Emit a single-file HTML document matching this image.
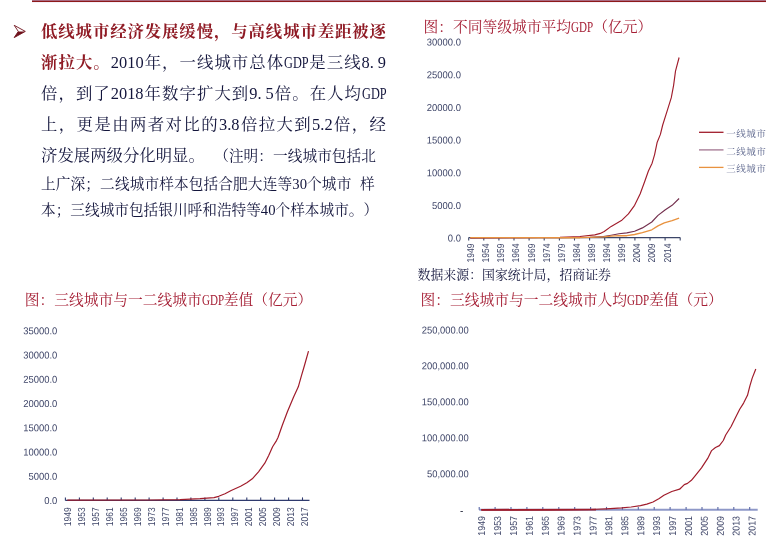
<!DOCTYPE html>
<html lang="zh-CN"><head><meta charset="utf-8"><title>低线城市经济发展缓慢</title>
<style>
html,body{margin:0;padding:0;background:#fff;}
body{text-spacing-trim:space-all;width:774px;height:545px;position:relative;overflow:hidden;font-family:"Liberation Serif","Noto Serif CJK SC",serif;}
svg text{font-family:"Liberation Serif","Noto Serif CJK SC",serif;}
svg text.ax{font-family:"Liberation Sans",sans-serif;fill:#3e4568;}
svg text.ttl{font-size:14.4px;fill:#a01c2b;}
svg text.lg{font-size:9.6px;letter-spacing:.4px;fill:#566088;}
svg text.src{font-size:12.9px;fill:#13153c;}
.ln{position:absolute;left:41px;width:345px;height:31px;line-height:31px;font-size:16.4px;color:#13153c;white-space:nowrap;}
.ln.w2{width:334.5px;}
.ln.j{text-align:justify;text-align-last:justify;}
.ln b{font-weight:700;color:#8f1a24;}
.ln .s,.ln.s2{font-size:14.67px;}
.hw3{display:inline-block;width:24px;height:16px;vertical-align:baseline;position:relative;}
.hw3>span{display:inline-block;transform:scaleX(.75);transform-origin:0 50%;}
.ttl{position:absolute;font-size:14.75px;line-height:22px;height:22px;color:#a51e34;white-space:nowrap;}
.hw3.t{width:22.1px;height:14px;}
.dot{display:inline-block;width:8px;text-align:left;}
#wrap{position:absolute;left:0;top:0;width:774px;height:545px;will-change:transform;opacity:.999;}
</style></head><body><div id="wrap">
<svg width="774" height="545" viewBox="0 0 774 545" style="position:absolute;left:0;top:0">
<rect x="32" y="0" width="734" height="1" fill="#aa6b82"/><rect x="32" y="1" width="734" height="1" fill="#8e1919"/><rect x="32" y="2" width="734" height="1" fill="#f6f0fa"/>
<g id="bullet"><path d="M14.2 25.3 L25.3 31.4 L14.2 37.6 L18.3 31.4 Z" fill="#fff" stroke="#6f121c" stroke-width="0.9" stroke-linejoin="miter"/><path d="M25.3 31.4 L14.2 37.6 L18.3 31.4 Z" fill="#6f121c"/></g>
<text transform="translate(461,241.6) rotate(0.03) scale(0.945,1)" text-anchor="end" class="ax" font-size="10">0.0</text>
<text transform="translate(461,208.9) rotate(0.03) scale(0.945,1)" text-anchor="end" class="ax" font-size="10">5000.0</text>
<text transform="translate(461,176.2) rotate(0.03) scale(0.945,1)" text-anchor="end" class="ax" font-size="10">10000.0</text>
<text transform="translate(461,143.6) rotate(0.03) scale(0.945,1)" text-anchor="end" class="ax" font-size="10">15000.0</text>
<text transform="translate(461,110.9) rotate(0.03) scale(0.945,1)" text-anchor="end" class="ax" font-size="10">20000.0</text>
<text transform="translate(461,78.2) rotate(0.03) scale(0.945,1)" text-anchor="end" class="ax" font-size="10">25000.0</text>
<text transform="translate(461,45.5) rotate(0.03) scale(0.945,1)" text-anchor="end" class="ax" font-size="10">30000.0</text>
<line x1="468.7" y1="237.6" x2="680.2" y2="237.6" stroke="#3c4668" stroke-width="1.2"/>
<line x1="468.7" y1="237.6" x2="468.7" y2="240.5" stroke="#3c4668" stroke-width="1.1"/>
<text transform="translate(474.2,243.6) rotate(-89.97) scale(0.85,1)" text-anchor="end" class="ax" font-size="10">1949</text>
<line x1="483.8" y1="237.6" x2="483.8" y2="240.5" stroke="#3c4668" stroke-width="1.1"/>
<text transform="translate(489.3,243.6) rotate(-89.97) scale(0.85,1)" text-anchor="end" class="ax" font-size="10">1954</text>
<line x1="498.9" y1="237.6" x2="498.9" y2="240.5" stroke="#3c4668" stroke-width="1.1"/>
<text transform="translate(504.4,243.6) rotate(-89.97) scale(0.85,1)" text-anchor="end" class="ax" font-size="10">1959</text>
<line x1="514.0" y1="237.6" x2="514.0" y2="240.5" stroke="#3c4668" stroke-width="1.1"/>
<text transform="translate(519.5,243.6) rotate(-89.97) scale(0.85,1)" text-anchor="end" class="ax" font-size="10">1964</text>
<line x1="529.1" y1="237.6" x2="529.1" y2="240.5" stroke="#3c4668" stroke-width="1.1"/>
<text transform="translate(534.6,243.6) rotate(-89.97) scale(0.85,1)" text-anchor="end" class="ax" font-size="10">1969</text>
<line x1="544.2" y1="237.6" x2="544.2" y2="240.5" stroke="#3c4668" stroke-width="1.1"/>
<text transform="translate(549.7,243.6) rotate(-89.97) scale(0.85,1)" text-anchor="end" class="ax" font-size="10">1974</text>
<line x1="559.4" y1="237.6" x2="559.4" y2="240.5" stroke="#3c4668" stroke-width="1.1"/>
<text transform="translate(564.8,243.6) rotate(-89.97) scale(0.85,1)" text-anchor="end" class="ax" font-size="10">1979</text>
<line x1="574.5" y1="237.6" x2="574.5" y2="240.5" stroke="#3c4668" stroke-width="1.1"/>
<text transform="translate(579.9,243.6) rotate(-89.97) scale(0.85,1)" text-anchor="end" class="ax" font-size="10">1984</text>
<line x1="589.6" y1="237.6" x2="589.6" y2="240.5" stroke="#3c4668" stroke-width="1.1"/>
<text transform="translate(595.0,243.6) rotate(-89.97) scale(0.85,1)" text-anchor="end" class="ax" font-size="10">1989</text>
<line x1="604.7" y1="237.6" x2="604.7" y2="240.5" stroke="#3c4668" stroke-width="1.1"/>
<text transform="translate(610.2,243.6) rotate(-89.97) scale(0.85,1)" text-anchor="end" class="ax" font-size="10">1994</text>
<line x1="619.8" y1="237.6" x2="619.8" y2="240.5" stroke="#3c4668" stroke-width="1.1"/>
<text transform="translate(625.3,243.6) rotate(-89.97) scale(0.85,1)" text-anchor="end" class="ax" font-size="10">1999</text>
<line x1="634.9" y1="237.6" x2="634.9" y2="240.5" stroke="#3c4668" stroke-width="1.1"/>
<text transform="translate(640.4,243.6) rotate(-89.97) scale(0.85,1)" text-anchor="end" class="ax" font-size="10">2004</text>
<line x1="650.0" y1="237.6" x2="650.0" y2="240.5" stroke="#3c4668" stroke-width="1.1"/>
<text transform="translate(655.5,243.6) rotate(-89.97) scale(0.85,1)" text-anchor="end" class="ax" font-size="10">2009</text>
<line x1="665.1" y1="237.6" x2="665.1" y2="240.5" stroke="#3c4668" stroke-width="1.1"/>
<text transform="translate(670.6,243.6) rotate(-89.97) scale(0.85,1)" text-anchor="end" class="ax" font-size="10">2014</text>
<line x1="680.2" y1="237.6" x2="680.2" y2="240.5" stroke="#3c4668" stroke-width="1.1"/>
<polyline points="470.2,237.8 520.0,237.6 560.0,237.2 580.0,236.5 594.8,234.9 600.3,233.4 604.2,231.5 611.2,226.4 621.4,220.6 628.4,213.9 634.6,205.3 640.1,194.0 644.8,181.2 648.4,171.0 652.1,163.2 654.6,154.6 657.2,142.2 660.4,134.4 662.7,125.0 667.4,110.2 671.3,97.7 673.6,85.3 675.5,71.2 679.1,57.5" fill="none" stroke="#a01c2b" stroke-width="1.15" stroke-linejoin="round"/>
<polyline points="470.2,237.8 560.0,237.7 590.0,237.2 603.4,236.5 611.2,235.2 619.0,233.8 626.8,232.9 634.6,231.3 642.4,227.9 651.8,222.0 658.0,215.4 665.0,210.0 672.1,205.3 679.1,198.5" fill="none" stroke="#74304e" stroke-width="1.15" stroke-linejoin="round"/>
<polyline points="470.2,237.6 580.0,237.7 603.4,236.8 611.2,236.2 619.0,235.7 626.8,235.7 634.6,234.5 642.4,232.6 651.8,229.8 658.0,225.9 664.3,222.9 672.1,220.6 679.1,218.2" fill="none" stroke="#e8923f" stroke-width="1.35" stroke-linejoin="round"/>
<line x1="699" y1="132.3" x2="723.5" y2="132.3" stroke="#a01c2b" stroke-width="1.3"/>
<text x="726.2" y="136.9" class="lg">一线城市</text>
<line x1="699" y1="149.9" x2="723.5" y2="149.9" stroke="#a27590" stroke-width="1.3"/>
<text x="726.2" y="154.5" class="lg">二线城市</text>
<line x1="699" y1="167.4" x2="723.5" y2="167.4" stroke="#e8923f" stroke-width="1.3"/>
<text x="726.2" y="172.0" class="lg">三线城市</text>
<text x="417.6" y="279" class="src">数据来源：国家统计局，招商证券</text>
<text transform="translate(57.3,503.9) rotate(0.03) scale(0.945,1)" text-anchor="end" class="ax" font-size="10">0.0</text>
<text transform="translate(57.3,479.7) rotate(0.03) scale(0.945,1)" text-anchor="end" class="ax" font-size="10">5000.0</text>
<text transform="translate(57.3,455.5) rotate(0.03) scale(0.945,1)" text-anchor="end" class="ax" font-size="10">10000.0</text>
<text transform="translate(57.3,431.2) rotate(0.03) scale(0.945,1)" text-anchor="end" class="ax" font-size="10">15000.0</text>
<text transform="translate(57.3,407.0) rotate(0.03) scale(0.945,1)" text-anchor="end" class="ax" font-size="10">20000.0</text>
<text transform="translate(57.3,382.8) rotate(0.03) scale(0.945,1)" text-anchor="end" class="ax" font-size="10">25000.0</text>
<text transform="translate(57.3,358.5) rotate(0.03) scale(0.945,1)" text-anchor="end" class="ax" font-size="10">30000.0</text>
<text transform="translate(57.3,334.3) rotate(0.03) scale(0.945,1)" text-anchor="end" class="ax" font-size="10">35000.0</text>
<line x1="65.4" y1="500.4" x2="309.5" y2="500.4" stroke="#2f3a6e" stroke-width="1.2"/>
<line x1="65.4" y1="497.4" x2="65.4" y2="500.4" stroke="#2f3a6e" stroke-width="1.1"/>
<text transform="translate(71.1,507.29999999999995) rotate(-89.97) scale(0.85,1)" text-anchor="end" class="ax" font-size="10">1949</text>
<line x1="79.4" y1="497.4" x2="79.4" y2="500.4" stroke="#2f3a6e" stroke-width="1.1"/>
<text transform="translate(85.0,507.29999999999995) rotate(-89.97) scale(0.85,1)" text-anchor="end" class="ax" font-size="10">1953</text>
<line x1="93.3" y1="497.4" x2="93.3" y2="500.4" stroke="#2f3a6e" stroke-width="1.1"/>
<text transform="translate(99.0,507.29999999999995) rotate(-89.97) scale(0.85,1)" text-anchor="end" class="ax" font-size="10">1957</text>
<line x1="107.2" y1="497.4" x2="107.2" y2="500.4" stroke="#2f3a6e" stroke-width="1.1"/>
<text transform="translate(112.9,507.29999999999995) rotate(-89.97) scale(0.85,1)" text-anchor="end" class="ax" font-size="10">1961</text>
<line x1="121.2" y1="497.4" x2="121.2" y2="500.4" stroke="#2f3a6e" stroke-width="1.1"/>
<text transform="translate(126.9,507.29999999999995) rotate(-89.97) scale(0.85,1)" text-anchor="end" class="ax" font-size="10">1965</text>
<line x1="135.2" y1="497.4" x2="135.2" y2="500.4" stroke="#2f3a6e" stroke-width="1.1"/>
<text transform="translate(140.8,507.29999999999995) rotate(-89.97) scale(0.85,1)" text-anchor="end" class="ax" font-size="10">1969</text>
<line x1="149.1" y1="497.4" x2="149.1" y2="500.4" stroke="#2f3a6e" stroke-width="1.1"/>
<text transform="translate(154.8,507.29999999999995) rotate(-89.97) scale(0.85,1)" text-anchor="end" class="ax" font-size="10">1973</text>
<line x1="163.1" y1="497.4" x2="163.1" y2="500.4" stroke="#2f3a6e" stroke-width="1.1"/>
<text transform="translate(168.7,507.29999999999995) rotate(-89.97) scale(0.85,1)" text-anchor="end" class="ax" font-size="10">1977</text>
<line x1="177.0" y1="497.4" x2="177.0" y2="500.4" stroke="#2f3a6e" stroke-width="1.1"/>
<text transform="translate(182.7,507.29999999999995) rotate(-89.97) scale(0.85,1)" text-anchor="end" class="ax" font-size="10">1981</text>
<line x1="190.9" y1="497.4" x2="190.9" y2="500.4" stroke="#2f3a6e" stroke-width="1.1"/>
<text transform="translate(196.6,507.29999999999995) rotate(-89.97) scale(0.85,1)" text-anchor="end" class="ax" font-size="10">1985</text>
<line x1="204.9" y1="497.4" x2="204.9" y2="500.4" stroke="#2f3a6e" stroke-width="1.1"/>
<text transform="translate(210.6,507.29999999999995) rotate(-89.97) scale(0.85,1)" text-anchor="end" class="ax" font-size="10">1989</text>
<line x1="218.8" y1="497.4" x2="218.8" y2="500.4" stroke="#2f3a6e" stroke-width="1.1"/>
<text transform="translate(224.5,507.29999999999995) rotate(-89.97) scale(0.85,1)" text-anchor="end" class="ax" font-size="10">1993</text>
<line x1="232.8" y1="497.4" x2="232.8" y2="500.4" stroke="#2f3a6e" stroke-width="1.1"/>
<text transform="translate(238.5,507.29999999999995) rotate(-89.97) scale(0.85,1)" text-anchor="end" class="ax" font-size="10">1997</text>
<line x1="246.8" y1="497.4" x2="246.8" y2="500.4" stroke="#2f3a6e" stroke-width="1.1"/>
<text transform="translate(252.4,507.29999999999995) rotate(-89.97) scale(0.85,1)" text-anchor="end" class="ax" font-size="10">2001</text>
<line x1="260.7" y1="497.4" x2="260.7" y2="500.4" stroke="#2f3a6e" stroke-width="1.1"/>
<text transform="translate(266.4,507.29999999999995) rotate(-89.97) scale(0.85,1)" text-anchor="end" class="ax" font-size="10">2005</text>
<line x1="274.6" y1="497.4" x2="274.6" y2="500.4" stroke="#2f3a6e" stroke-width="1.1"/>
<text transform="translate(280.3,507.29999999999995) rotate(-89.97) scale(0.85,1)" text-anchor="end" class="ax" font-size="10">2009</text>
<line x1="288.6" y1="497.4" x2="288.6" y2="500.4" stroke="#2f3a6e" stroke-width="1.1"/>
<text transform="translate(294.3,507.29999999999995) rotate(-89.97) scale(0.85,1)" text-anchor="end" class="ax" font-size="10">2013</text>
<line x1="302.5" y1="497.4" x2="302.5" y2="500.4" stroke="#2f3a6e" stroke-width="1.1"/>
<text transform="translate(308.2,507.29999999999995) rotate(-89.97) scale(0.85,1)" text-anchor="end" class="ax" font-size="10">2017</text>
<polyline points="67.3,500.2 150.0,500.0 180.0,499.6 200.0,498.7 214.0,497.6 218.7,496.3 225.0,493.7 231.2,490.5 240.6,486.3 246.8,482.7 252.3,478.8 258.5,471.8 264.8,463.2 268.7,455.4 272.6,446.8 276.5,440.6 278.0,437.5 282.4,425.0 287.4,411.8 293.6,397.0 298.3,386.8 301.4,375.9 304.6,365.0 308.5,351.2" fill="none" stroke="#a01c2b" stroke-width="1.2" stroke-linejoin="round"/>
<text transform="translate(468.8,477.2) rotate(0.03) scale(0.94,1)" text-anchor="end" class="ax" font-size="10">50,000.00</text>
<text transform="translate(468.8,441.2) rotate(0.03) scale(0.94,1)" text-anchor="end" class="ax" font-size="10">100,000.00</text>
<text transform="translate(468.8,405.3) rotate(0.03) scale(0.94,1)" text-anchor="end" class="ax" font-size="10">150,000.00</text>
<text transform="translate(468.8,369.3) rotate(0.03) scale(0.94,1)" text-anchor="end" class="ax" font-size="10">200,000.00</text>
<text transform="translate(468.8,333.4) rotate(0.03) scale(0.94,1)" text-anchor="end" class="ax" font-size="10">250,000.00</text>
<text x="463.3" y="514.3" text-anchor="end" class="ax" font-size="10" style="fill:#23263a">-</text>
<line x1="479.2" y1="509.8" x2="757.7" y2="509.8" stroke="#8e98c8" stroke-width="2"/>
<line x1="479.2" y1="506.90000000000003" x2="479.2" y2="509.8" stroke="#5a68a6" stroke-width="1.1"/>
<text transform="translate(485.0,516.0) rotate(-89.97) scale(0.885,1)" text-anchor="end" class="ax" font-size="10">1949</text>
<line x1="495.1" y1="506.90000000000003" x2="495.1" y2="509.8" stroke="#5a68a6" stroke-width="1.1"/>
<text transform="translate(501.0,516.0) rotate(-89.97) scale(0.885,1)" text-anchor="end" class="ax" font-size="10">1953</text>
<line x1="511.0" y1="506.90000000000003" x2="511.0" y2="509.8" stroke="#5a68a6" stroke-width="1.1"/>
<text transform="translate(516.9,516.0) rotate(-89.97) scale(0.885,1)" text-anchor="end" class="ax" font-size="10">1957</text>
<line x1="526.9" y1="506.90000000000003" x2="526.9" y2="509.8" stroke="#5a68a6" stroke-width="1.1"/>
<text transform="translate(532.8,516.0) rotate(-89.97) scale(0.885,1)" text-anchor="end" class="ax" font-size="10">1961</text>
<line x1="542.8" y1="506.90000000000003" x2="542.8" y2="509.8" stroke="#5a68a6" stroke-width="1.1"/>
<text transform="translate(548.7,516.0) rotate(-89.97) scale(0.885,1)" text-anchor="end" class="ax" font-size="10">1965</text>
<line x1="558.8" y1="506.90000000000003" x2="558.8" y2="509.8" stroke="#5a68a6" stroke-width="1.1"/>
<text transform="translate(564.6,516.0) rotate(-89.97) scale(0.885,1)" text-anchor="end" class="ax" font-size="10">1969</text>
<line x1="574.7" y1="506.90000000000003" x2="574.7" y2="509.8" stroke="#5a68a6" stroke-width="1.1"/>
<text transform="translate(580.5,516.0) rotate(-89.97) scale(0.885,1)" text-anchor="end" class="ax" font-size="10">1973</text>
<line x1="590.6" y1="506.90000000000003" x2="590.6" y2="509.8" stroke="#5a68a6" stroke-width="1.1"/>
<text transform="translate(596.4,516.0) rotate(-89.97) scale(0.885,1)" text-anchor="end" class="ax" font-size="10">1977</text>
<line x1="606.5" y1="506.90000000000003" x2="606.5" y2="509.8" stroke="#5a68a6" stroke-width="1.1"/>
<text transform="translate(612.3,516.0) rotate(-89.97) scale(0.885,1)" text-anchor="end" class="ax" font-size="10">1981</text>
<line x1="622.4" y1="506.90000000000003" x2="622.4" y2="509.8" stroke="#5a68a6" stroke-width="1.1"/>
<text transform="translate(628.2,516.0) rotate(-89.97) scale(0.885,1)" text-anchor="end" class="ax" font-size="10">1985</text>
<line x1="638.3" y1="506.90000000000003" x2="638.3" y2="509.8" stroke="#5a68a6" stroke-width="1.1"/>
<text transform="translate(644.2,516.0) rotate(-89.97) scale(0.885,1)" text-anchor="end" class="ax" font-size="10">1989</text>
<line x1="654.2" y1="506.90000000000003" x2="654.2" y2="509.8" stroke="#5a68a6" stroke-width="1.1"/>
<text transform="translate(660.1,516.0) rotate(-89.97) scale(0.885,1)" text-anchor="end" class="ax" font-size="10">1993</text>
<line x1="670.1" y1="506.90000000000003" x2="670.1" y2="509.8" stroke="#5a68a6" stroke-width="1.1"/>
<text transform="translate(676.0,516.0) rotate(-89.97) scale(0.885,1)" text-anchor="end" class="ax" font-size="10">1997</text>
<line x1="686.1" y1="506.90000000000003" x2="686.1" y2="509.8" stroke="#5a68a6" stroke-width="1.1"/>
<text transform="translate(691.9,516.0) rotate(-89.97) scale(0.885,1)" text-anchor="end" class="ax" font-size="10">2001</text>
<line x1="702.0" y1="506.90000000000003" x2="702.0" y2="509.8" stroke="#5a68a6" stroke-width="1.1"/>
<text transform="translate(707.8,516.0) rotate(-89.97) scale(0.885,1)" text-anchor="end" class="ax" font-size="10">2005</text>
<line x1="717.9" y1="506.90000000000003" x2="717.9" y2="509.8" stroke="#5a68a6" stroke-width="1.1"/>
<text transform="translate(723.7,516.0) rotate(-89.97) scale(0.885,1)" text-anchor="end" class="ax" font-size="10">2009</text>
<line x1="733.8" y1="506.90000000000003" x2="733.8" y2="509.8" stroke="#5a68a6" stroke-width="1.1"/>
<text transform="translate(739.6,516.0) rotate(-89.97) scale(0.885,1)" text-anchor="end" class="ax" font-size="10">2013</text>
<line x1="749.7" y1="506.90000000000003" x2="749.7" y2="509.8" stroke="#5a68a6" stroke-width="1.1"/>
<text transform="translate(755.5,516.0) rotate(-89.97) scale(0.885,1)" text-anchor="end" class="ax" font-size="10">2017</text>
<line x1="481.2" y1="509.8" x2="596" y2="509.7" stroke="#a01c2b" stroke-width="1.8"/>
<polyline points="481.5,509.9 550.0,509.8 590.6,509.5 606.2,508.8 621.8,507.9 631.1,507.0 640.5,505.7 646.8,504.1 653.0,502.0 659.2,498.4 663.9,495.3 671.8,491.5 679.6,489.2 684.3,484.6 687.5,483.4 691.4,480.3 695.3,475.6 701.5,467.8 707.7,458.4 711.6,450.6 715.5,447.5 719.4,445.6 723.3,440.5 725.7,435.0 731.1,426.5 735.8,417.1 739.7,409.3 743.6,403.1 747.5,395.3 749.9,385.9 752.2,378.1 755.8,369.0" fill="none" stroke="#a01c2b" stroke-width="1.2" stroke-linejoin="round"/>
</svg>
<div class="ttl" style="left:423.6px;top:16.2px">图：不同等级城市平均<span class="hw3 t"><span>GDP</span></span>（亿元）</div>
<div class="ttl" style="left:24.7px;top:289.2px">图：三线城市与一二线城市<span class="hw3 t"><span>GDP</span></span>差值（亿元）</div>
<div class="ttl" style="left:420.5px;top:289.2px">图：三线城市与一二线城市人均<span class="hw3 t"><span>GDP</span></span>差值（元）</div>
<div class="ln m j" style="top:16.2px"><b>低线城市经济发展缓慢，与高线城市差距被逐</b></div>
<div class="ln m j" style="top:47.2px"><b>渐拉大。</b>2010年，一线城市总体<span class="hw3"><span>GDP</span></span>是三线8<span class="dot">.</span>9</div>
<div class="ln m j" style="top:78.2px">倍，到了2018年数字扩大到9<span class="dot">.</span>5倍。在人均<span class="hw3"><span>GDP</span></span></div>
<div class="ln m j" style="top:109.2px">上，更是由两者对比的3.8倍拉大到5.2倍，经</div>
<div class="ln m" style="top:140.2px">济发展两级分化明显。<span class="s" style="margin-left:9.3px;letter-spacing:.05px">（注明：一线城市包括北</span></div>
<div class="ln s2" style="top:169.2px"><span style="letter-spacing:.12px">上广深；二线城市样本包括合肥大连等30个城市</span><span style="margin-left:8.5px">样</span></div>
<div class="ln s2" style="top:195.2px">本；三线城市包括银川呼和浩特等40个样本城市。）</div>
</div></body></html>
